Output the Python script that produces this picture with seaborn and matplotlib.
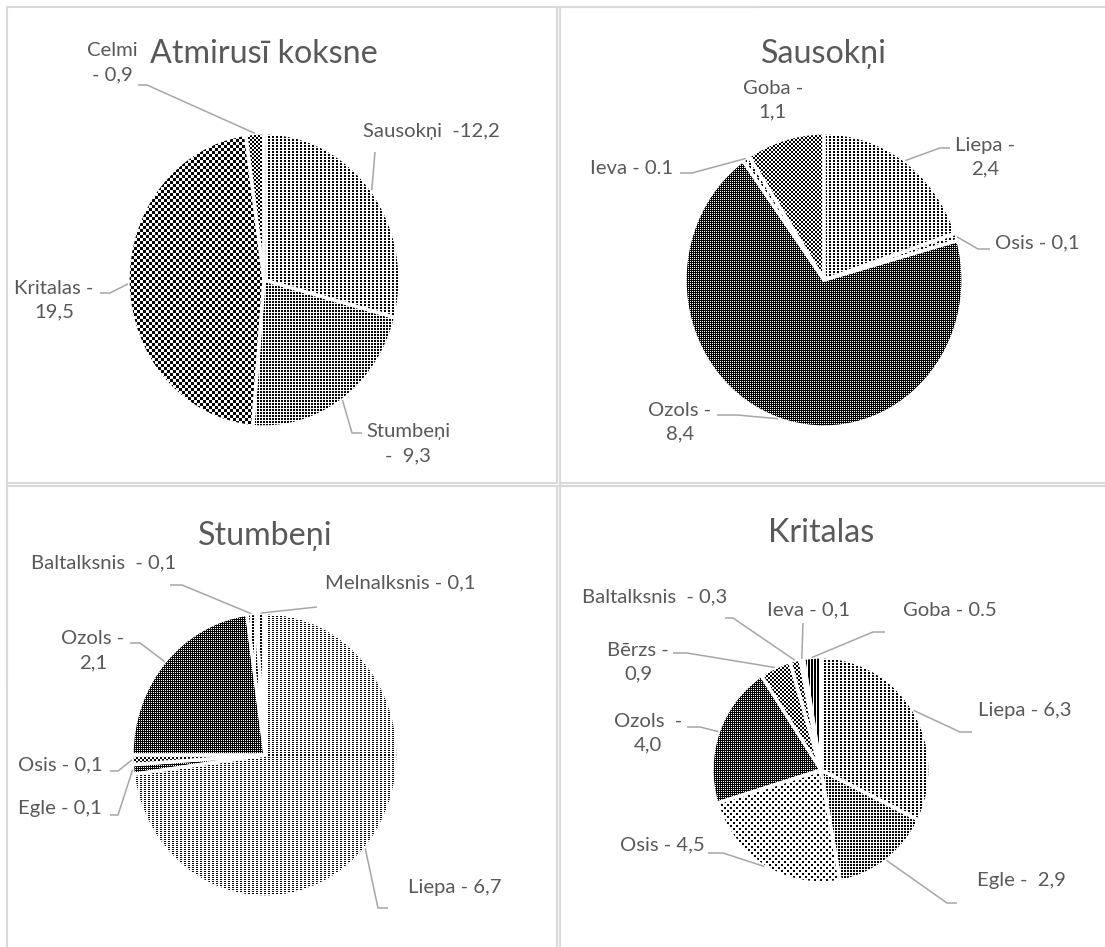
import numpy as np
import matplotlib
matplotlib.use("Agg")
import matplotlib.pyplot as plt
from matplotlib.lines import Line2D
import seaborn as sns

# ---------------- data ----------------
total_labels = ["Sausokņi", "Stumbeņi", "Kritalas", "Celmi"]
total_values = [12.2, 9.3, 19.5, 0.9]
total_texts = ["Sausokņi  -12,2", "Stumbeņi\n-  9,3", "Kritalas -\n19,5", "Celmi\n- 0,9"]

sausokni_labels = ["Liepa", "Osis", "Ozols", "Ieva", "Goba"]
sausokni_values = [2.4, 0.1, 8.4, 0.1, 1.1]
sausokni_texts = ["Liepa -\n2,4", "Osis - 0,1", "Ozols -\n8,4", "Ieva - 0.1", "Goba -\n1,1"]

stumbeni_labels = ["Liepa", "Egle", "Osis", "Ozols", "Baltalksnis", "Melnalksnis"]
stumbeni_values = [6.7, 0.1, 0.1, 2.1, 0.1, 0.1]
stumbeni_texts = ["Liepa - 6,7", "Egle - 0,1", "Osis - 0,1", "Ozols -\n2,1",
                  "Baltalksnis  - 0,1", "Melnalksnis - 0,1"]

kritalas_labels = ["Liepa", "Egle", "Osis", "Ozols", "Bērzs", "Baltalksnis", "Ieva", "Goba"]
kritalas_values = [6.3, 2.9, 4.5, 4.0, 0.9, 0.3, 0.1, 0.5]
kritalas_texts = ["Liepa - 6,3", "Egle -  2,9", "Osis - 4,5", "Ozols  -\n4,0",
                  "Bērzs -\n0,9", "Baltalksnis  - 0,3", "Ieva - 0,1", "Goba - 0.5"]

titles = ["Atmirusī koksne", "Sausokņi", "Stumbeņi", "Kritalas"]

# ---------------- style ----------------
sns.set_theme(style="white")
plt.rcParams["font.family"] = ["Lato", "DejaVu Sans"]
TEXT = "#595959"
LEADER = "#a6a6a6"
BORDER = "#d9d9d9"
W, H = 1105, 947

# pixel-level fill textures ('#' = black)
TILES = {
    "light": ["##..", "##..", "...."],
    "stripe": ["##..", "...."],
    "checker": ["###...", "###...", "###...", "...###", "...###", "...###"],
    "grid": ["##.", "##.", "..."],
    "fine": ["##..", "##..", "..##", "..##"],
    "dark": ["#.", "##"],
    "sparse": ["##....", "##....", "......", "...##.", "...##.", "......"],
    "bars": ["##.", "##."],
}

def tile_array(name):
    return np.array([[0.0 if c == "#" else 1.0 for c in r] for r in TILES[name]])

# panel frame (x0, y0, x1, y1), pie centre and radii in pixels
panels = [
    dict(box=(7, 7, 557, 483), c=(264, 280), r=(136, 147), title_y=63),
    dict(box=(560, 7, 1105, 483), c=(824, 280), r=(139, 147), title_y=63),
    dict(box=(7, 486, 557, 947), c=(265, 755), r=(133, 142), title_y=545),
    dict(box=(560, 486, 1105, 947), c=(821, 770), r=(109, 113), title_y=542),
]

fills = [
    ["light", "grid", "checker", "fine"],
    ["light", "light", "dark", "light", "fine"],
    ["stripe", "dark", "fine", "dark", "light", "light"],
    ["light", "grid", "sparse", "dark", "fine", "fine", "light", "bars"],
]

# label placement: text anchor (px), alignment, leader path points (px) after the slice edge
placements = [
    [((363, 131), "left", [(375, 152)]),
     ((408, 444), "center", [(352, 433), (362, 433)]),
     ((54, 300), "center", [(110, 293), (100, 293)]),
     ((112, 63), "center", [(147, 85), (138, 85)])],
    [((985, 157), "center", [(940, 148), (950, 148)]),
     ((995, 243), "left", [(978, 249), (990, 249)]),
     ((680, 422), "center", [(737, 415), (717, 415)]),
     ((673, 168), "right", [(692, 173), (680, 173)]),
     ((773, 100), "center", [])],
    [((408, 887), "left", [(378, 908), (388, 908)]),
     ((102, 808), "right", [(118, 815), (110, 815)]),
     ((103, 765), "right", [(118, 771), (110, 771)]),
     ((93, 651), "center", [(140, 643), (130, 643)]),
     ((31, 563), "left", [(182, 585), (170, 585)]),
     ((325, 583), "left", [(317, 607)])],
    [((978, 710), "left", [(960, 732), (972, 732)]),
     ((977, 880), "left", [(947, 903), (957, 903)]),
     ((705, 845), "right", [(723, 853), (708, 853)]),
     ((648, 733), "center", [(700, 727), (687, 727)]),
     ((638, 662), "center", [(687, 653), (673, 653)]),
     ((582, 597), "left", [(733, 618), (725, 618)]),
     ((767, 610), "left", [(803, 623)]),
     ((903, 610), "left", [(873, 632), (885, 632)])],
]

all_values = [total_values, sausokni_values, stumbeni_values, kritalas_values]
all_texts = [total_texts, sausokni_texts, stumbeni_texts, kritalas_texts]

fig = plt.figure(figsize=(W / 100, H / 100), dpi=100)
fig.patch.set_facecolor("white")

# chart frames (right and bottom edges of the outer charts run past the canvas)
for p in panels:
    x0, y0, x1, y1 = p["box"]
    segs = [((x0, x1 + 200), (y0, y0)), ((x0, x0), (y0, y1 + 200))]
    if x1 < W:
        segs.append(((x1, x1), (y0, y1)))
    if y1 < H:
        segs.append(((x0, x1), (y1, y1)))
    for xs, ys in segs:
        fig.add_artist(Line2D([v / W for v in xs], [1 - v / H for v in ys],
                              transform=fig.transFigure, color=BORDER, lw=1.5))

for p, values, texts, fill, place, title in zip(panels, all_values, all_texts,
                                                fills, placements, titles):
    x0, y0, x1, y1 = p["box"]
    cx, cy = p["c"]
    rx, ry = p["r"]
    ax = fig.add_axes([x0 / W, 1 - y1 / H, (x1 - x0) / W, (y1 - y0) / H])

    def to_data(px, py):
        return (px - cx) / rx, (cy - py) / ry

    wedges, _ = ax.pie(values, startangle=90, counterclock=False, radius=1,
                       colors=["white"] * len(values),
                       wedgeprops=dict(edgecolor="white", linewidth=2.4))

    # textured fills clipped to each slice
    nw, nh = 2 * rx, 2 * ry
    for w, name in zip(wedges, fill):
        t = tile_array(name)
        th, tw = t.shape
        arr = np.tile(t, (nh // th + 1, nw // tw + 1))[:nh, :nw]
        im = ax.imshow(arr, cmap="gray", vmin=0, vmax=1, extent=(-1, 1, -1, 1),
                       interpolation="nearest", aspect="auto", zorder=2)
        im.set_clip_path(w)
        w.set_facecolor("none")
        w.set_zorder(3)

    ax.set_aspect("auto")
    ax.set_xlim((x0 - cx) / rx, (x1 - cx) / rx)
    ax.set_ylim((cy - y1) / ry, (cy - y0) / ry)
    ax.axis("off")

    # title
    ty = to_data(cx, p["title_y"])[1]
    ax.text(0, ty, title, ha="center", va="baseline",
            fontsize=23.2, color=TEXT, clip_on=False)

    # data labels with leader lines
    for w, txt, ((lx, ly), ha, path) in zip(wedges, texts, place):
        if path:
            mid = np.deg2rad((w.theta1 + w.theta2) / 2)
            pts = [(np.cos(mid), np.sin(mid))] + [to_data(*q) for q in path]
            ax.plot([q[0] for q in pts], [q[1] for q in pts], color=LEADER,
                    lw=1.1, clip_on=False, zorder=4, solid_capstyle="butt")
        dx, dy = to_data(lx, ly)
        ax.text(dx, dy, txt, ha=ha, va="center", multialignment="center",
                fontsize=14.6, color=TEXT, linespacing=1.5, clip_on=False)

fig.savefig("out.png", dpi=100)
